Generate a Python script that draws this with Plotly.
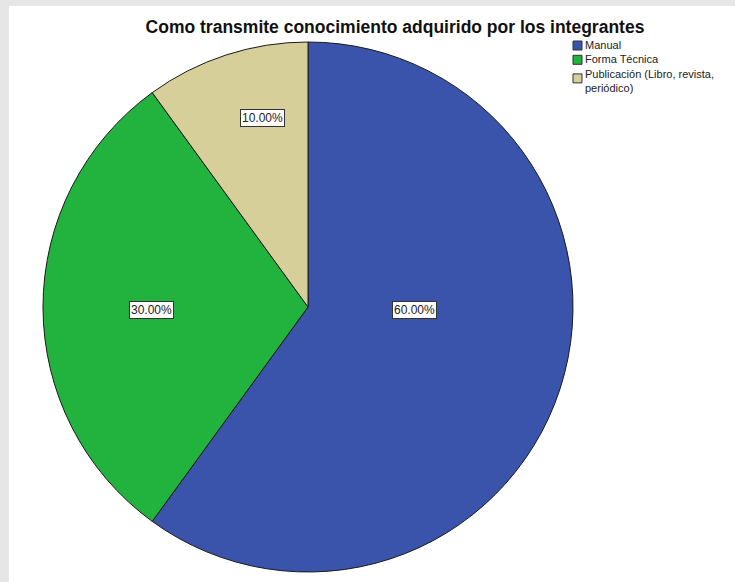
import plotly.graph_objects as go

W, H = 735, 582

# ---- data ----
categories = ["Manual", "Forma Técnica", "Publicación (Libro, revista,\nperiódico)"]
values = [60.0, 30.0, 10.0]
colors = ["#3a54ab", "#22b33e", "#d6cf9a"]
title_text = "Como transmite conocimiento adquirido por los integrantes"

# ---- layout helpers (pixel -> paper) ----
def px(x):
    return x / W

def py(y):
    return 1 - y / H

cx, cy, r = 308, 307, 265

fig = go.Figure()
fig.add_trace(go.Pie(
    labels=[c.replace("\n", " ") for c in categories],
    values=values,
    sort=False,
    direction="clockwise",
    rotation=0,
    marker=dict(colors=colors, line=dict(color="#1a1a1a", width=1)),
    textinfo="none",
    hoverinfo="label+percent",
    showlegend=False,
    domain=dict(x=[px(cx - r), px(cx + r)], y=[py(cy + r), py(cy - r)]),
))

shapes = [dict(type="rect", xref="paper", yref="paper", x0=px(9), x1=1, y0=0, y1=py(6),
               fillcolor="white", line=dict(width=0), layer="below")]
annotations = []

# percentage labels (positions are style)
label_pos = [(414, 310), (151, 310), (262, 118)]
total = sum(values)
for v, (lx, ly) in zip(values, label_pos):
    annotations.append(dict(
        x=px(lx), y=py(ly), xref="paper", yref="paper", showarrow=False,
        text=f"{100 * v / total:.2f}%", font=dict(family="Liberation Sans, Arial", size=12, color="#222"),
        bgcolor="white", bordercolor="#333", borderwidth=1, borderpad=1,
        xanchor="center", yanchor="middle",
    ))

# custom legend: one text block, swatches aligned to its lines
leg_x = 573
leg_font = 11
first_line = 45.5
line_h = 1.3 * leg_font
all_lines = []
swatch_y = []
for cat in categories:
    lines = cat.split("\n")
    start = len(all_lines)
    all_lines.extend(lines)
    yc = first_line + start * line_h
    if len(lines) > 1:
        yc += line_h * 0.3
    swatch_y.append(yc)

for col, sy in zip(colors, swatch_y):
    shapes.append(dict(type="rect", xref="paper", yref="paper",
                       x0=px(leg_x), x1=px(leg_x + 9), y0=py(sy + 4.5), y1=py(sy - 4.5),
                       fillcolor=col, line=dict(color="#333", width=1), layer="above"))

annotations.append(dict(
    x=px(leg_x + 11), y=py(first_line - line_h / 2), xref="paper", yref="paper", showarrow=False,
    text="<br>".join(all_lines), font=dict(family="Liberation Sans, Arial", size=leg_font, color="#222"),
    xanchor="left", yanchor="top", align="left", borderpad=0,
))

fig.update_layout(
    width=W, height=H,
    margin=dict(l=0, r=0, t=0, b=0),
    paper_bgcolor="#e6e6e6",
    plot_bgcolor="white",
    title=dict(text=f"<b>{title_text}</b>", x=px(395), y=py(27), xanchor="center", yanchor="middle",
               font=dict(family="Liberation Sans, Arial", size=17.5, color="#111")),
    shapes=shapes,
    annotations=annotations,
)

fig.write_html("out.html")
